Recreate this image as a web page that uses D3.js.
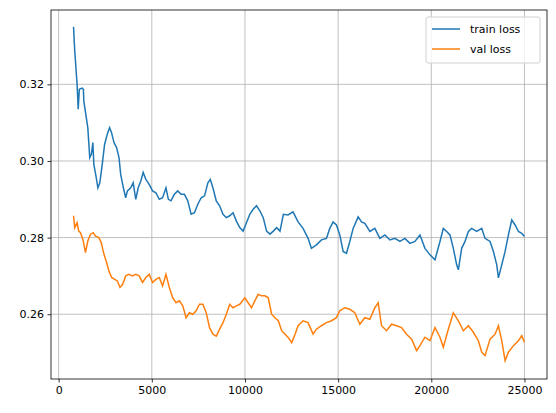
<!DOCTYPE html>
<html>
<head>
<meta charset="utf-8">
<script src="https://cdn.jsdelivr.net/npm/d3@7"></script>
<style>
  body { margin: 0; background: #fff; }
  text { font-family: "DejaVu Sans", sans-serif; }
</style>
</head>
<body>
<div id="chart"></div>
<script>
const trainSteps = [800, 864, 990, 1050, 1110, 1260, 1330, 1350, 1565, 1670, 1760, 1836, 1890, 2016, 2106, 2210, 2340, 2466, 2610, 2736, 2840, 2970, 3110, 3240, 3330, 3474, 3600, 3690, 3870, 4000, 4140, 4270, 4410, 4536, 4680, 4860, 5040, 5220, 5400, 5580, 5760, 5890, 6030, 6210, 6390, 6570, 6750, 6930, 7110, 7290, 7470, 7650, 7830, 8010, 8136, 8280, 8460, 8640, 8820, 9000, 9180, 9360, 9540, 9720, 9900, 10080, 10260, 10440, 10620, 10800, 10980, 11160, 11340, 11520, 11700, 11880, 12060, 12312, 12580, 12850, 13118, 13387, 13566, 13835, 14104, 14373, 14552, 14731, 14910, 15090, 15269, 15448, 15627, 15806, 16075, 16254, 16434, 16703, 16971, 17240, 17509, 17778, 18047, 18315, 18584, 18853, 19122, 19391, 19660, 19928, 20197, 20466, 20645, 20824, 21003, 21183, 21362, 21452, 21631, 21810, 21989, 22168, 22437, 22706, 22885, 23154, 23333, 23513, 23602, 23781, 23961, 24140, 24319, 24498, 24677, 24857, 25000];
const trainLoss = [0.3350, 0.3287, 0.3200, 0.3135, 0.3187, 0.3190, 0.3187, 0.3157, 0.3087, 0.3009, 0.3018, 0.3048, 0.2991, 0.2957, 0.2930, 0.2943, 0.2991, 0.3043, 0.3070, 0.3087, 0.3074, 0.3048, 0.3035, 0.3009, 0.2965, 0.2930, 0.2904, 0.2922, 0.2930, 0.2943, 0.2900, 0.2930, 0.2948, 0.2970, 0.2952, 0.2939, 0.2922, 0.2917, 0.2900, 0.2904, 0.2930, 0.2900, 0.2896, 0.2913, 0.2922, 0.2913, 0.2913, 0.2896, 0.2861, 0.2865, 0.2887, 0.2904, 0.2909, 0.2943, 0.2952, 0.2930, 0.2896, 0.2883, 0.2861, 0.2852, 0.2857, 0.2865, 0.2843, 0.2826, 0.2817, 0.2839, 0.2861, 0.2874, 0.2883, 0.2870, 0.2852, 0.2817, 0.2809, 0.2817, 0.2826, 0.2817, 0.2861, 0.2859, 0.2867, 0.2841, 0.2824, 0.2798, 0.2772, 0.2781, 0.2794, 0.2798, 0.2824, 0.2841, 0.2833, 0.2807, 0.2764, 0.2759, 0.2790, 0.2824, 0.2854, 0.2841, 0.2837, 0.2816, 0.2824, 0.2798, 0.2807, 0.2794, 0.2798, 0.2790, 0.2798, 0.2785, 0.2790, 0.2807, 0.2772, 0.2755, 0.2742, 0.2790, 0.2824, 0.2816, 0.2807, 0.2772, 0.2729, 0.2716, 0.2772, 0.2790, 0.2816, 0.2824, 0.2816, 0.2824, 0.2798, 0.2790, 0.2764, 0.2729, 0.2695, 0.2729, 0.2764, 0.2807, 0.2846, 0.2833, 0.2816, 0.2811, 0.2803];

const valSteps = [800, 864, 990, 1080, 1170, 1300, 1440, 1566, 1710, 1854, 1980, 2160, 2286, 2430, 2574, 2700, 2844, 3006, 3150, 3294, 3438, 3600, 3780, 3960, 4140, 4320, 4500, 4680, 4860, 5040, 5220, 5400, 5580, 5760, 5940, 6120, 6300, 6480, 6660, 6840, 7020, 7200, 7380, 7560, 7740, 7920, 8100, 8280, 8460, 8640, 8820, 9000, 9180, 9360, 9540, 9720, 9990, 10170, 10350, 10530, 10710, 10890, 11070, 11250, 11430, 11610, 11790, 11970, 12150, 12330, 12510, 12690, 12850, 13118, 13387, 13656, 13835, 14104, 14373, 14641, 14910, 15090, 15358, 15627, 15896, 16165, 16434, 16703, 16971, 17151, 17330, 17599, 17868, 18136, 18405, 18674, 18943, 19212, 19391, 19660, 19928, 20197, 20466, 20645, 20914, 21183, 21452, 21720, 21989, 22258, 22527, 22706, 22885, 23154, 23423, 23602, 23781, 23961, 24140, 24408, 24677, 24857, 25000];
const valLoss = [0.2857, 0.2826, 0.2839, 0.2817, 0.2813, 0.2796, 0.2761, 0.2791, 0.2809, 0.2813, 0.2804, 0.2800, 0.2787, 0.2757, 0.2735, 0.2713, 0.2696, 0.2691, 0.2687, 0.2670, 0.2678, 0.2700, 0.2704, 0.2700, 0.2704, 0.2700, 0.2683, 0.2696, 0.2704, 0.2683, 0.2691, 0.2696, 0.2674, 0.2704, 0.2670, 0.2643, 0.2630, 0.2635, 0.2622, 0.2591, 0.2604, 0.2600, 0.2609, 0.2626, 0.2626, 0.2604, 0.2565, 0.2548, 0.2543, 0.2561, 0.2578, 0.2600, 0.2626, 0.2617, 0.2622, 0.2626, 0.2643, 0.2630, 0.2617, 0.2635, 0.2652, 0.2648, 0.2648, 0.2643, 0.2600, 0.2591, 0.2583, 0.2557, 0.2548, 0.2539, 0.2526, 0.2548, 0.2570, 0.2583, 0.2578, 0.2548, 0.2561, 0.2570, 0.2578, 0.2583, 0.2591, 0.2609, 0.2617, 0.2613, 0.2604, 0.2574, 0.2591, 0.2587, 0.2617, 0.2630, 0.2570, 0.2557, 0.2574, 0.2570, 0.2565, 0.2548, 0.2535, 0.2505, 0.2518, 0.2540, 0.2531, 0.2565, 0.2540, 0.2514, 0.2561, 0.2604, 0.2583, 0.2557, 0.2570, 0.2553, 0.2531, 0.2501, 0.2492, 0.2535, 0.2548, 0.2570, 0.2531, 0.2479, 0.2501, 0.2518, 0.2531, 0.2544, 0.2527];

const xTicks = [0, 5000, 10000, 15000, 20000, 25000];
const yTicks = [0.26, 0.28, 0.30, 0.32];
const seriesNames = ["train loss", "val loss"];
const seriesColors = ["#1f77b4", "#ff7f0e"];

const width = 556;
const height = 413;
const margin = { top: 10, right: 9, bottom: 34, left: 51 };
const innerW = width - margin.left - margin.right;
const innerH = height - margin.top - margin.bottom;

const svg = d3.select("#chart").append("svg")
  .attr("width", width).attr("height", height);
const g = svg.append("g").attr("transform", `translate(${margin.left},${margin.top})`);

const x = d3.scaleLinear().domain([-410, 26210]).range([0, innerW]);
const y = d3.scaleLinear().domain([0.2431, 0.3394]).range([innerH, 0]);

// grid
g.selectAll(".gx").data(xTicks).enter().append("line")
  .attr("x1", d => x(d)).attr("x2", d => x(d)).attr("y1", 0).attr("y2", innerH)
  .attr("stroke", "#b0b0b0").attr("stroke-width", 0.8);
g.selectAll(".gy").data(yTicks).enter().append("line")
  .attr("y1", d => y(d)).attr("y2", d => y(d)).attr("x1", 0).attr("x2", innerW)
  .attr("stroke", "#b0b0b0").attr("stroke-width", 0.8);

const series = [
  trainSteps.map((s, i) => [s, trainLoss[i]]),
  valSteps.map((s, i) => [s, valLoss[i]]),
];
const line = d3.line().x(d => x(d[0])).y(d => y(d[1]));
series.forEach((s, i) => {
  g.append("path").datum(s).attr("d", line)
    .attr("fill", "none").attr("stroke", seriesColors[i]).attr("stroke-width", 1.5);
});

const xAxis = g.append("g").attr("transform", `translate(0,${innerH})`)
  .call(d3.axisBottom(x).tickValues(xTicks).tickSize(3.5).tickPadding(3.5).tickFormat(d3.format("d")));
const yAxis = g.append("g")
  .call(d3.axisLeft(y).tickValues(yTicks).tickSize(3.5).tickPadding(3.5).tickFormat(d3.format(".2f")));
[xAxis, yAxis].forEach(a => {
  a.select(".domain").remove();
  a.selectAll("text").attr("font-size", 11).attr("fill", "#000").attr("font-family", "DejaVu Sans");
  a.selectAll("line").attr("stroke", "#000").attr("stroke-width", 0.8);
});

g.append("rect").attr("width", innerW).attr("height", innerH)
  .attr("fill", "none").attr("stroke", "#000").attr("stroke-width", 0.8);

// legend
const legend = svg.append("g").attr("transform", "translate(426,17)");
legend.append("rect").attr("width", 114).attr("height", 46).attr("rx", 2)
  .attr("fill", "#fff").attr("fill-opacity", 0.8).attr("stroke", "#d0d0d0");
seriesNames.forEach((name, i) => {
  const ly = 12 + i * 20;
  legend.append("line").attr("x1", 6).attr("x2", 34).attr("y1", ly).attr("y2", ly)
    .attr("stroke", seriesColors[i]).attr("stroke-width", 1.5);
  legend.append("text").attr("x", 44).attr("y", ly + 4).attr("font-size", 11).text(name);
});
</script>
</body>
</html>
